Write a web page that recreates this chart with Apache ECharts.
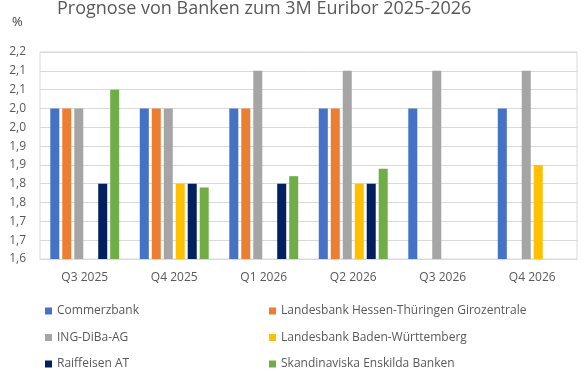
<!DOCTYPE html>
<html>
<head>
<meta charset="utf-8">
<script src="https://cdn.jsdelivr.net/npm/echarts@6/dist/echarts.min.js"></script>
<style>
  html, body { margin: 0; padding: 0; background: #fff; }
  #chart { width: 585px; height: 375px; }
</style>
</head>
<body>
<div id="chart"></div>
<script>
const quarters = ['Q3 2025', 'Q4 2025', 'Q1 2026', 'Q2 2026', 'Q3 2026', 'Q4 2026'];

const commerzbank = [2.0, 2.0, 2.0, 2.0, 2.0, 2.0];
const helaba      = [2.0, 2.0, 2.0, 2.0, null, null];
const ingDiba     = [2.0, 2.0, 2.1, 2.1, 2.1, 2.1];
const lbbw        = [null, 1.8, null, 1.8, null, 1.85];
const raiffeisen  = [1.8, 1.8, 1.8, 1.8, null, null];
const seb         = [2.05, 1.79, 1.82, 1.84, null, null];

const banks = [
  'Commerzbank',
  'Landesbank Hessen-Thüringen Girozentrale',
  'ING-DiBa-AG',
  'Landesbank Baden-Württemberg',
  'Raiffeisen AT',
  'Skandinaviska Enskilda Banken'
];
const values = [commerzbank, helaba, ingDiba, lbbw, raiffeisen, seb];
const colors = ['#4472C4', '#ED7D31', '#A5A5A5', '#FFC000', '#002060', '#70AD47'];

const font = 'Open Sans';
const textColor = '#595959';
const gridColor = '#D9D9D9';

const chart = echarts.init(document.getElementById('chart'));

// two vertical legend columns, 3 rows each
const legendBase = {
  orient: 'vertical',
  top: 304,
  height: 80,
  padding: 0,
  itemWidth: 7,
  itemHeight: 7,
  itemGap: 12.5,
  icon: 'rect',
  textStyle: { fontFamily: font, fontSize: 12, lineHeight: 14, color: textColor }
};

chart.setOption({
  animation: false,
  color: colors,
  title: [
    {
      text: 'Prognose von Banken zum 3M Euribor 2025-2026',
      left: 57,
      top: 0,
      padding: 0,
      textStyle: { fontFamily: font, fontSize: 18, fontWeight: 'normal', color: textColor }
    },
    {
      text: '%',
      left: 12,
      top: 16,
      padding: 0,
      textStyle: { fontFamily: font, fontSize: 13, fontWeight: 'normal', color: '#404040' }
    }
  ],
  legend: [
    Object.assign({}, legendBase, { left: 45, data: [banks[0], banks[2], banks[4]] }),
    Object.assign({}, legendBase, { left: 269, data: [banks[1], banks[3], banks[5]] })
  ],
  grid: {
    left: 40,
    right: 8,
    top: 52,
    bottom: 116,
    show: true,
    borderColor: gridColor,
    borderWidth: 1
  },
  xAxis: {
    type: 'category',
    data: quarters,
    axisTick: { show: false },
    axisLine: { lineStyle: { color: gridColor, width: 1 } },
    axisLabel: { fontFamily: font, fontSize: 12, color: textColor, margin: 13 }
  },
  yAxis: {
    type: 'value',
    min: 1.6,
    max: 2.15,
    interval: 0.05,
    axisLine: { show: false },
    axisTick: { show: false },
    splitLine: { lineStyle: { color: gridColor, width: 1 } },
    axisLabel: {
      fontFamily: font,
      fontSize: 12,
      color: textColor,
      margin: 14,
      padding: [3, 0, 0, 0],
      formatter: v => (Math.round(v * 10 + 1e-9) / 10).toFixed(1).replace('.', ',')
    }
  },
  series: banks.map((name, i) => ({
    name: name,
    type: 'bar',
    data: values[i],
    barGap: '33%',
    barCategoryGap: '23%'
  }))
});
</script>
</body>
</html>
